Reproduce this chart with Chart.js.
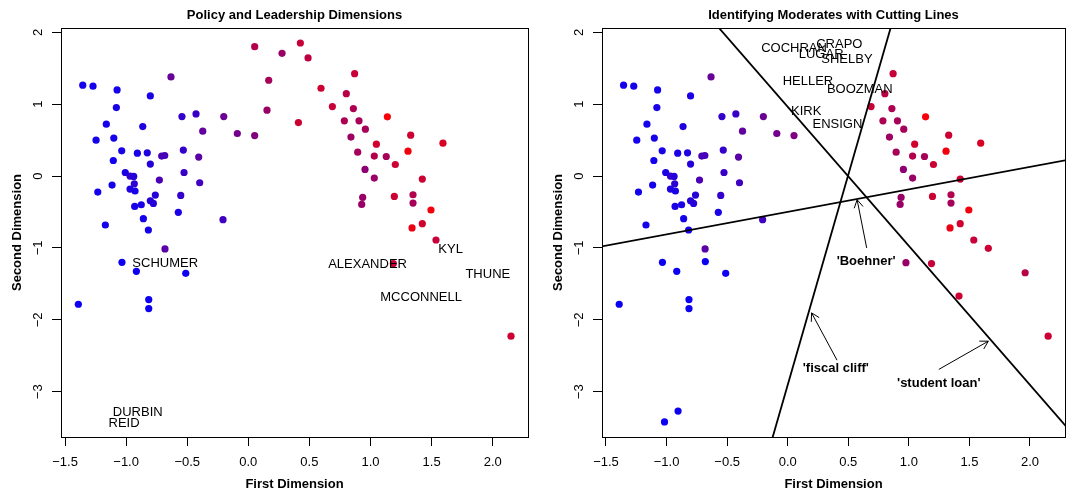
<!DOCTYPE html>
<html>
<head>
<meta charset="utf-8">
<script src="https://cdn.jsdelivr.net/npm/chart.js@4.4.1/dist/chart.umd.min.js"></script>
<style>
  html, body { margin: 0; padding: 0; background: #fff; }
  .panel { position: absolute; top: 0; height: 495px; }
  #left { left: 0; width: 535px; }
  #right { left: 535px; width: 534px; }
</style>
</head>
<body>
<div class="panel" id="left"><canvas id="leftChart"></canvas></div>
<div class="panel" id="right"><canvas id="rightChart"></canvas></div>
<script>
// senators without a name label (drawn as points in both panels)
const senX = [-1.355, -1.271, -1.074, -0.802, -0.633, -1.080, -1.162, -0.864, -0.543, -0.428,
  -0.201, -0.373, -0.090, 0.052, -1.246, -1.101, -1.036, -1.105, -0.908, -0.827,
  -0.802, -0.709, -0.684, -0.532, -0.406, -1.007, -0.968, -0.938, -0.526, -1.115,
  -0.933, -0.728, -0.398, -1.232, -0.968, -0.927, -0.761, -0.553, -0.802, -0.777,
  -0.876, -0.930, -0.573, -0.859, -0.207, -1.170, -0.818, -0.682, -1.034, -0.916,
  -0.512, -1.391, -0.815, -0.815,
  0.870, 0.802, 0.688, 0.860, 0.786, 0.906, 0.958, 1.138, 0.840, 1.329,
  1.593, 1.048, 1.307, 0.895, 1.031, 1.129, 1.203, 0.955, 1.031, 1.424,
  0.936, 0.928, 1.195, 1.348, 1.348, 1.495, 1.424, 1.340, 1.536, 2.150, 1.187];
const senY = [1.264, 1.250, 1.199, 1.115, 1.379, 0.953, 0.722, 0.689, 0.828, 0.865,
  0.828, 0.625, 0.592, 0.564, 0.500, 0.528, 0.351, 0.217, 0.319, 0.324,
  0.167, 0.278, 0.286, 0.361, 0.264, 0.050, 0.000, -0.005, 0.050, -0.125,
  -0.107, -0.056, -0.093, -0.222, -0.181, -0.208, -0.264, -0.269, -0.343, -0.380,
  -0.399, -0.422, -0.505, -0.593, -0.607, -0.681, -0.750, -1.014, -1.200, -1.325,
  -1.353, -1.783, -1.718, -1.843,
  1.425, 1.147, 0.967, 0.939, 0.768, 0.768, 0.653, 0.824, 0.542, 0.569,
  0.458, 0.444, 0.347, 0.333, 0.278, 0.272, 0.161, 0.092, -0.028, -0.042,
  -0.297, -0.394, -0.283, -0.260, -0.375, -0.472, -0.662, -0.722, -0.889, -2.228, -1.218];
// share of red in each point's colour (0 = blue, 1 = red)
const senRed = [0.08, 0.08, 0.08, 0.10, 0.40, 0.10, 0.08, 0.12, 0.20, 0.22,
  0.42, 0.38, 0.45, 0.50, 0.08, 0.08, 0.10, 0.08, 0.10, 0.12,
  0.15, 0.28, 0.28, 0.20, 0.35, 0.10, 0.20, 0.15, 0.22, 0.08,
  0.18, 0.30, 0.25, 0.08, 0.12, 0.10, 0.15, 0.20, 0.15, 0.15,
  0.10, 0.10, 0.10, 0.08, 0.25, 0.08, 0.08, 0.35, 0.05, 0.05,
  0.05, 0.05, 0.05, 0.05,
  0.78, 0.72, 0.78, 0.68, 0.68, 0.65, 0.65, 0.97, 0.62, 0.80,
  0.85, 0.82, 0.95, 0.65, 0.70, 0.65, 0.80, 0.55, 0.60, 0.80,
  0.60, 0.60, 0.80, 0.70, 0.65, 0.95, 0.82, 0.92, 0.78, 0.80, 0.78];

// named in the left panel, plain points in the right one
const leftNames = ['SCHUMER', 'DURBIN', 'REID', 'ALEXANDER', 'KYL', 'THUNE', 'MCCONNELL'];
const leftNameX = [-0.680, -0.905, -1.017, 0.976, 1.656, 1.960, 1.414];
const leftNameY = [-1.190, -3.270, -3.420, -1.205, -1.005, -1.345, -1.670];
const leftNameRed = [0.05, 0.05, 0.05, 0.60, 0.80, 0.72, 0.80];

// named in the right panel, plain points in the left one
const rightNames = ['COCHRAN', 'CRAPO', 'LUGAR', 'SHELBY', 'HELLER', 'BOOZMAN', 'KIRK', 'ENSIGN'];
const rightNameX = [0.052, 0.426, 0.276, 0.489, 0.167, 0.595, 0.153, 0.410];
const rightNameY = [1.800, 1.851, 1.708, 1.643, 1.333, 1.222, 0.917, 0.744];
const rightNameRed = [0.70, 0.78, 0.60, 0.75, 0.65, 0.80, 0.60, 0.80];

// cutting lines y = a + b x, with their labels and arrows
const cutNames = ["'student loan'", "'fiscal cliff'", "'Boehner'"];
const cutIntercept = [0.963, -2.906, -0.4985];
const cutSlope = [-1.935, 5.847, 0.3134];
const cutLabelX = [1.247, 0.397, 0.647];
const cutLabelY = [-2.866, -2.653, -1.163];
const arrowFromX = [1.247, 0.407, 0.652];
const arrowFromY = [-2.690, -2.561, -1.000];
const arrowToX = [1.656, 0.197, 0.573];
const arrowToY = [-2.297, -1.903, -0.329];

const xTicks = [-1.5, -1, -0.5, 0, 0.5, 1, 1.5, 2];
const xTickLabels = ['\u22121.5', '\u22121.0', '\u22120.5', '0.0', '0.5', '1.0', '1.5', '2.0'];
const yTicks = [-3, -2, -1, 0, 1, 2];
const yTickLabels = ['\u22123', '\u22122', '\u22121', '0', '1', '2'];

const FONT = '"Liberation Sans", Arial, Helvetica, sans-serif';

function mix(t) {
    return 'rgb(' + Math.round(255 * t) + ',0,' + Math.round(255 * (1 - t)) + ')';
}

function pointSet(xs, ys) {
    return xs.map((x, i) => ({ x: x, y: ys[i] }));
}

// box, titles, rotated y labels, text labels and arrows in R style
const rPlot = {
    id: 'rPlot',
    afterDatasetsDraw(chart, args, opts) {
        const ctx = chart.ctx;
        const a = chart.chartArea;
        const sx = chart.scales.x, sy = chart.scales.y;
        ctx.save();
        ctx.strokeStyle = '#000';
        ctx.lineWidth = 1;
        ctx.strokeRect(Math.round(a.left) + 0.5, Math.round(a.top) + 0.5,
            Math.round(a.right - a.left), Math.round(a.bottom - a.top));

        ctx.fillStyle = '#000';
        ctx.textAlign = 'center';
        ctx.textBaseline = 'middle';
        const cx = (a.left + a.right) / 2;
        ctx.font = 'bold 13px ' + FONT;
        ctx.fillText(opts.title, cx, 15);
        ctx.fillText('First Dimension', cx, 484);
        ctx.save();
        ctx.translate(a.left - 44, (a.top + a.bottom) / 2);
        ctx.rotate(-Math.PI / 2);
        ctx.fillText('Second Dimension', 0, 0);
        ctx.restore();

        ctx.font = '13px ' + FONT;
        yTicks.forEach((v, i) => {
            ctx.save();
            ctx.translate(a.left - 23, sy.getPixelForValue(v));
            ctx.rotate(-Math.PI / 2);
            ctx.fillText(yTickLabels[i], 0, 0);
            ctx.restore();
        });

        opts.names.forEach((n, i) => {
            ctx.fillText(n, sx.getPixelForValue(opts.nameX[i]), sy.getPixelForValue(opts.nameY[i]) + 1.5);
        });

        if (opts.cuts) {
            ctx.font = 'bold 13px ' + FONT;
            cutNames.forEach((n, i) => {
                ctx.fillText(n, sx.getPixelForValue(cutLabelX[i]), sy.getPixelForValue(cutLabelY[i]) + 1.5);
                const x0 = sx.getPixelForValue(arrowFromX[i]), y0 = sy.getPixelForValue(arrowFromY[i]);
                const x1 = sx.getPixelForValue(arrowToX[i]), y1 = sy.getPixelForValue(arrowToY[i]);
                const ang = Math.atan2(y1 - y0, x1 - x0);
                const len = 9;
                ctx.lineWidth = 1;
                ctx.beginPath();
                ctx.moveTo(x0, y0);
                ctx.lineTo(x1, y1);
                ctx.moveTo(x1 - len * Math.cos(ang - Math.PI / 6), y1 - len * Math.sin(ang - Math.PI / 6));
                ctx.lineTo(x1, y1);
                ctx.lineTo(x1 - len * Math.cos(ang + Math.PI / 6), y1 - len * Math.sin(ang + Math.PI / 6));
                ctx.stroke();
            });
        }
        ctx.restore();
    }
};

function makeOptions(axisWidth, padRight, plotOpts) {
    return {
        responsive: true,
        maintainAspectRatio: false,
        animation: false,
        events: [],
        layout: { padding: { left: 0, right: padRight, top: 28, bottom: 0 } },
        scales: {
            x: {
                type: 'linear',
                min: -1.533,
                max: 2.289,
                afterBuildTicks: function(scale) {
                    scale.ticks = xTicks.map(v => ({ value: v }));
                },
                afterFit: function(scale) { scale.height = 58; },
                grid: { drawOnChartArea: false, drawTicks: true, tickLength: 9, color: '#000', lineWidth: 1 },
                border: { display: false },
                ticks: {
                    color: '#000',
                    padding: 9,
                    maxRotation: 0,
                    autoSkip: false,
                    font: { family: FONT, size: 13 },
                    callback: function(value, index) { return xTickLabels[index]; }
                }
            },
            y: {
                type: 'linear',
                min: -3.63,
                max: 2.06,
                afterBuildTicks: function(scale) {
                    scale.ticks = yTicks.map(v => ({ value: v }));
                },
                afterFit: function(scale) { scale.width = axisWidth; },
                grid: { drawOnChartArea: false, drawTicks: true, tickLength: 9, color: '#000', lineWidth: 1 },
                border: { display: false },
                ticks: { display: false }
            }
        },
        plugins: {
            legend: { display: false },
            tooltip: { enabled: false },
            title: { display: false },
            rPlot: plotOpts
        }
    };
}

function pointDataset(xs, ys, reds) {
    return {
        data: pointSet(xs, ys),
        pointRadius: 3.6,
        pointBorderWidth: 0,
        pointBackgroundColor: reds.map(mix),
        pointBorderColor: reds.map(mix),
        showLine: false
    };
}

// left panel: all senators as points except the named leaders
new Chart(document.getElementById('leftChart'), {
    type: 'scatter',
    data: {
        datasets: [
            pointDataset(senX, senY, senRed),
            pointDataset(rightNameX, rightNameY, rightNameRed)
        ]
    },
    options: makeOptions(61, 7, {
        title: 'Policy and Leadership Dimensions',
        names: leftNames, nameX: leftNameX, nameY: leftNameY, cuts: false
    }),
    plugins: [rPlot]
});

// right panel: cutting lines on top of the points
const cutLines = cutNames.map((n, i) => ({
    data: [-3, 3].map(x => ({ x: x, y: cutIntercept[i] + cutSlope[i] * x })),
    showLine: true,
    borderColor: '#000',
    borderWidth: 1.8,
    pointRadius: 0,
    clip: 0
}));

new Chart(document.getElementById('rightChart'), {
    type: 'scatter',
    data: {
        datasets: cutLines.concat([
            pointDataset(senX, senY, senRed),
            pointDataset(leftNameX, leftNameY, leftNameRed)
        ])
    },
    options: makeOptions(67, 1, {
        title: 'Identifying Moderates with Cutting Lines',
        names: rightNames, nameX: rightNameX, nameY: rightNameY, cuts: true
    }),
    plugins: [rPlot]
});
</script>
</body>
</html>
